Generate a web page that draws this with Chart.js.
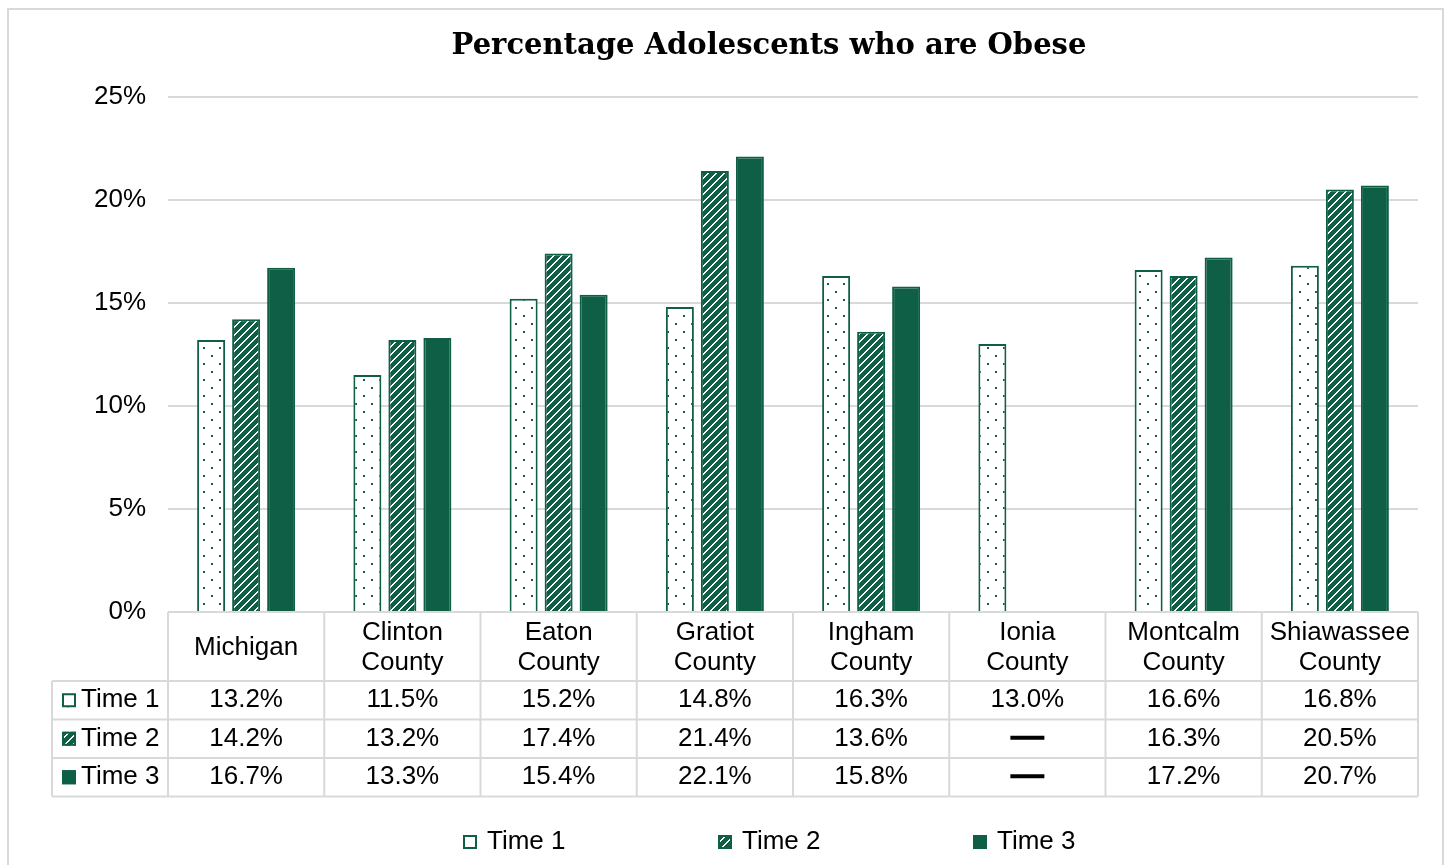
<!DOCTYPE html>
<html>
<head>
<meta charset="utf-8">
<script src="https://cdn.jsdelivr.net/npm/chart.js@4.4.1/dist/chart.umd.min.js"></script>
<style>
  html, body { margin: 0; padding: 0; background: #fff; overflow: hidden; }
  .frame { position: absolute; left: 7px; top: 8px; width: 1437px; height: 900px; border: 2px solid #d9d9d9; box-sizing: border-box; }
  #chart { position: absolute; left: 0; top: 0; }
</style>
</head>
<body>
<div class="frame"></div>
<canvas id="chart" width="1448" height="865"></canvas>
<script>
// data
const categories = [['Michigan'], ['Clinton', 'County'], ['Eaton', 'County'], ['Gratiot', 'County'],
  ['Ingham', 'County'], ['Ionia', 'County'], ['Montcalm', 'County'], ['Shiawassee', 'County']];
const seriesNames = ['Time 1', 'Time 2', 'Time 3'];
const time1 = [13.2, 11.5, 15.2, 14.8, 16.3, 13.0, 16.6, 16.8];
const time2 = [14.2, 13.2, 17.4, 21.4, 13.6, null, 16.3, 20.5];
const time3 = [16.7, 13.3, 15.4, 22.1, 15.8, null, 17.2, 20.7];
const yTicks = [0, 5, 10, 15, 20, 25];

const green = '#0f5e46';
const gridGray = '#d9d9d9';
const labelFont = '26px "Liberation Sans", Arial, sans-serif';

// pattern fills like excel's dotted / upward diagonal fills
let makeDots = () => {
    let c = document.createElement('canvas');
    c.width = 16; c.height = 16;
    let g = c.getContext('2d');
    g.fillStyle = '#fff';
    g.fillRect(0, 0, 16, 16);
    g.fillStyle = green;
    g.fillRect(3, 3, 2, 2);
    g.fillRect(11, 11, 2, 2);
    return g.createPattern(c, 'repeat');
};
let makeStripes = () => {
    let c = document.createElement('canvas');
    c.width = 8; c.height = 8;
    let g = c.getContext('2d');
    g.fillStyle = green;
    g.fillRect(0, 0, 8, 8);
    g.fillStyle = '#fff';
    for (let x = 0; x < 8; x++) {
        for (let y = 0; y < 8; y++) {
            let k = (x + y) % 8;
            if (k === 0 || k === 1) g.fillRect(x, y, 1, 1);
        }
    }
    return g.createPattern(c, 'repeat');
};
const fills = [makeDots(), makeStripes(), green];
const seriesData = [time1, time2, time3];

// draw a legend key (used in table and legend)
let drawKey = (ctx, i, x, y, s) => {
    ctx.save();
    ctx.fillStyle = fills[i];
    ctx.fillRect(x, y, s, s);
    ctx.strokeStyle = green;
    ctx.lineWidth = 2;
    ctx.strokeRect(x + 1, y + 1, s - 2, s - 2);
    ctx.restore();
};

// data table under the plot + bottom legend
const dataTable = {
    id: 'dataTable',
    afterDraw(chart) {
        let ctx = chart.ctx;
        let xs = chart.scales.x;
        let area = chart.chartArea;
        let n = categories.length;
        let w = (area.right - area.left) / n;
        let top = area.bottom;
        let headH = 69, rowH = 38.5;
        let rowsTop = top + headH;
        let bottom = rowsTop + rowH * 3;
        let leftCol = 52;

        ctx.save();
        ctx.strokeStyle = gridGray;
        ctx.lineWidth = 2;
        ctx.beginPath();
        // horizontal lines
        ctx.moveTo(area.left, top); ctx.lineTo(area.right, top);
        for (let r = 0; r <= 3; r++) {
            let y = rowsTop + r * rowH;
            ctx.moveTo(leftCol, y); ctx.lineTo(area.right, y);
        }
        // vertical lines
        for (let c = 0; c <= n; c++) {
            let x = area.left + c * w;
            ctx.moveTo(x, top); ctx.lineTo(x, bottom);
        }
        ctx.moveTo(leftCol, rowsTop); ctx.lineTo(leftCol, bottom);
        ctx.stroke();

        ctx.fillStyle = '#000';
        ctx.font = labelFont;
        ctx.textAlign = 'center';
        ctx.textBaseline = 'middle';
        // header
        categories.forEach((lines, i) => {
            let cx = xs.getPixelForValue(i);
            let mid = top + headH / 2 + 1;
            lines.forEach((t, j) => {
                let y = mid + (j - (lines.length - 1) / 2) * 30;
                ctx.fillText(t, cx, y);
            });
        });
        // rows
        seriesData.forEach((vals, r) => {
            let cy = rowsTop + r * rowH + rowH / 2;
            drawKey(ctx, r, 62, cy - 7, 14);
            ctx.textAlign = 'left';
            ctx.fillText(seriesNames[r], 81, cy);
            ctx.textAlign = 'center';
            vals.forEach((v, i) => {
                let cx = xs.getPixelForValue(i);
                if (v === null) {
                    ctx.fillRect(cx - 17, cy - 3, 34, 4);
                } else {
                    ctx.fillText(v.toFixed(1) + '%', cx, cy);
                }
            });
        });

        // legend
        let ly = 842;
        let lx = 463;
        seriesNames.forEach((name, i) => {
            let x = lx + i * 255;
            drawKey(ctx, i, x, ly - 7, 14);
            ctx.textAlign = 'left';
            ctx.fillText(name, x + 24, ly);
        });
        ctx.restore();
    }
};

const chart = new Chart(document.getElementById('chart'), {
    type: 'bar',
    data: {
        labels: categories.map(c => c.join(' ')),
        datasets: seriesNames.map((name, i) => ({
            label: name,
            data: seriesData[i],
            backgroundColor: fills[i],
            borderColor: green,
            borderWidth: 2,
            categoryPercentage: 0.672,
            barPercentage: 0.8
        }))
    },
    options: {
        responsive: false,
        animation: false,
        layout: { padding: { left: 120, right: 30, top: 0, bottom: 69 } },
        plugins: {
            legend: { display: false },
            tooltip: { enabled: false },
            title: {
                display: true,
                text: 'Percentage Adolescents who are Obese',
                color: '#000',
                font: { family: '"DejaVu Serif", serif', size: 29, weight: 'bold', lineHeight: 1.2 },
                padding: { top: 29, bottom: 33 }
            }
        },
        scales: {
            x: {
                grid: { display: false },
                border: { display: false },
                ticks: { display: false },
                afterFit: s => { s.height = 184; }
            },
            y: {
                min: 0,
                max: 25,
                afterFit: s => {
                    s.width = 48;
                    // labels hang out to the left of the narrow axis box, don't clip them
                    s._computeLabelArea = () => undefined;
                },
                afterBuildTicks: s => { s.ticks = yTicks.map(v => ({ value: v })); },
                grid: { color: gridGray, lineWidth: 2, drawTicks: false },
                border: { display: false },
                ticks: {
                    padding: 22,
                    color: '#000',
                    font: { family: '"Liberation Sans", Arial, sans-serif', size: 26 },
                    callback: v => v + '%'
                }
            }
        }
    },
    plugins: [dataTable]
});
</script>
</body>
</html>
